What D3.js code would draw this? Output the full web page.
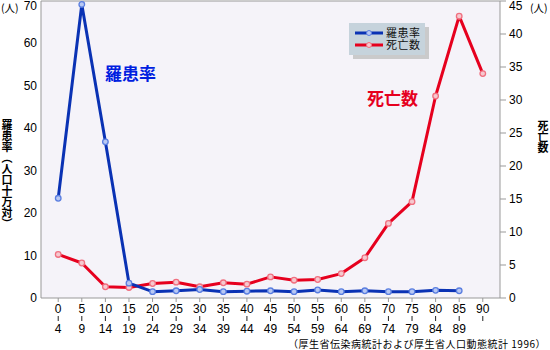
<!DOCTYPE html>
<html>
<head>
<meta charset="utf-8">
<script src="https://cdn.jsdelivr.net/npm/d3@7"></script>
<style>
  body { margin: 0; background: #fff; }
  text { font-family: "Liberation Sans", "Noto Sans CJK JP", sans-serif; }
  .jp { font-family: "Noto Sans CJK JP", sans-serif; }
</style>
</head>
<body>
<div id="chart"></div>
<script>
const ageStarts = ["0","5","10","15","20","25","30","35","40","45","50","55","60","65","70","75","80","85","90"];
const ageEnds   = ["4","9","14","19","24","29","34","39","44","49","54","59","64","69","74","79","84","89",""];
// 罹患率 (per 100k, left axis)
const rate = [23.5, 69.2, 36.8, 3.5, 1.5, 1.7, 2.0, 1.5, 1.6, 1.7, 1.5, 1.9, 1.5, 1.7, 1.5, 1.5, 1.8, 1.7, null];
// 死亡数 (persons, right axis)
const deaths = [6.6, 5.3, 1.7, 1.6, 2.2, 2.4, 1.7, 2.3, 2.1, 3.2, 2.7, 2.8, 3.7, 6.1, 11.3, 14.6, 30.6, 42.7, 34.0];
const seriesNames = ["羅患率", "死亡数"];
const leftTicks = [0, 10, 20, 30, 40, 50, 60, 70];
const rightTicks = [0, 5, 10, 15, 20, 25, 30, 35, 40, 45];

const W = 550, H = 350;
const pLeft = 41, pRight = 500, pTop = 1, pBottom = 298;
const blue = "#0a32b4", red = "#e6001e";

const svg = d3.select("#chart").append("svg")
  .attr("width", W).attr("height", H);

const x = d3.scalePoint().domain(d3.range(ageStarts.length)).range([pLeft, pRight]).padding(0.73);
const yL = d3.scaleLinear().domain([0, 70]).range([pBottom, pTop]);
const yR = d3.scaleLinear().domain([0, 45]).range([pBottom, pTop]);

// plot background
svg.append("rect").attr("x", pLeft).attr("y", pTop)
  .attr("width", pRight - pLeft).attr("height", pBottom - pTop)
  .attr("fill", "#f5f3f9");

// frame
svg.append("path")
  .attr("d", `M${pLeft},${pBottom}V${pTop}H${pRight}V${pBottom}Z`)
  .attr("fill", "none").attr("stroke", "#999").attr("stroke-width", 1);

// left axis labels
svg.append("g").selectAll("text").data(leftTicks).enter().append("text")
  .attr("x", pLeft - 4)
  .attr("y", d => Math.max(yL(d), 6) + 4)
  .attr("text-anchor", "end")
  .style("font-size", "12px")
  .text(d => d);

// right axis ticks + labels
const rg = svg.append("g");
rg.selectAll("line").data(rightTicks).enter().append("line")
  .attr("x1", pRight).attr("x2", pRight + 6)
  .attr("y1", d => yR(d)).attr("y2", d => yR(d))
  .attr("stroke", "#999");
rg.selectAll("text").data(rightTicks).enter().append("text")
  .attr("x", pRight + 9)
  .attr("y", d => Math.max(yR(d), 6) + 4)
  .style("font-size", "12px")
  .text(d => d);

// x ticks
const xg = svg.append("g");
xg.selectAll("line.t").data(ageStarts.map((d, i) => i)).enter().append("line")
  .attr("class", "t")
  .attr("x1", d => x(d)).attr("x2", d => x(d))
  .attr("y1", pBottom).attr("y2", pBottom + 4)
  .attr("stroke", "#999");
xg.selectAll("text.s").data(ageStarts).enter().append("text")
  .attr("class", "s")
  .attr("x", (d, i) => x(i)).attr("y", 313)
  .attr("text-anchor", "middle").style("font-size", "12px")
  .text(d => d);
xg.selectAll("line.bar").data(ageStarts.map((d, i) => i)).enter().append("line")
  .attr("class", "bar")
  .attr("x1", d => x(d)).attr("x2", d => x(d))
  .attr("y1", 316).attr("y2", 321)
  .attr("stroke", "#222");
xg.selectAll("text.e").data(ageEnds).enter().append("text")
  .attr("class", "e")
  .attr("x", (d, i) => x(i)).attr("y", 333)
  .attr("text-anchor", "middle").style("font-size", "12px")
  .text(d => d);

// lines
function drawSeries(values, yScale, color, fill, ring) {
  const pts = values.map((v, i) => [i, v]).filter(d => d[1] != null);
  svg.append("path").datum(pts)
    .attr("fill", "none").attr("stroke", color).attr("stroke-width", 3)
    .attr("stroke-linejoin", "round")
    .attr("d", d3.line().x(d => x(d[0])).y(d => yScale(d[1])));
  svg.append("g").selectAll("circle").data(pts).enter().append("circle")
    .attr("cx", d => x(d[0])).attr("cy", d => yScale(d[1]))
    .attr("r", 2.8).attr("fill", fill).attr("stroke", ring)
    .attr("stroke-width", 1.3);
}
drawSeries(deaths, yR, red, "#f6c8cf", "#f07080");
drawSeries(rate, yL, blue, "#b8c8f4", "#5a7ee0");

// legend
const lg = svg.append("g");
lg.append("rect").attr("x", 353).attr("y", 27).attr("width", 76).attr("height", 32)
  .attr("fill", "#b8b8b8").attr("opacity", 0.7);
lg.append("rect").attr("x", 349).attr("y", 23).attr("width", 76).attr("height", 32)
  .attr("fill", "#c6d3dc");
const legendStyle = [[blue, "#b8c8f4", "#5a7ee0", 33], [red, "#f6c8cf", "#f07080", 45]];
legendStyle.forEach(([c, f, ring, y]) => {
  lg.append("line").attr("x1", 355).attr("x2", 383).attr("y1", y).attr("y2", y)
    .attr("stroke", c).attr("stroke-width", 3);
  lg.append("circle").attr("cx", 369).attr("cy", y).attr("r", 2.5)
    .attr("fill", f).attr("stroke", ring);
});
const lt = lg.append("text").attr("class", "jp")
  .style("font-size", "11px").style("letter-spacing", "0.5px").attr("fill", "#111");
lt.selectAll("tspan").data(seriesNames).enter().append("tspan")
  .attr("x", 386).attr("y", (d, i) => legendStyle[i][3] + 4)
  .text(d => d);

// annotations
svg.append("text").attr("class", "jp").attr("x", 105).attr("y", 80)
  .style("font-size", "17px").style("font-weight", "bold").attr("fill", "#0020e0")
  .text(seriesNames[0]);
svg.append("text").attr("class", "jp").attr("x", 367).attr("y", 105)
  .style("font-size", "17px").style("font-weight", "bold").attr("fill", red)
  .text(seriesNames[1]);

// axis titles
svg.append("text").attr("class", "jp")
  .attr("x", 7).attr("y", 119)
  .style("writing-mode", "vertical-rl")
  .style("font-size", "11px").style("font-weight", "bold")
  .text("羅患率（人口十万対）");
svg.append("text").attr("class", "jp")
  .attr("x", 543).attr("y", 120)
  .style("writing-mode", "vertical-rl")
  .style("font-size", "11px").style("font-weight", "bold")
  .text("死亡数");

// units
svg.append("text").attr("class", "jp").attr("x", 1).attr("y", 12)
  .style("font-size", "10.5px").text("(人)");
svg.append("text").attr("class", "jp").attr("x", 530).attr("y", 12)
  .style("font-size", "10.5px").text("(人)");

// source
svg.append("text").attr("class", "jp").attr("x", 546).attr("y", 348)
  .attr("text-anchor", "end").style("font-size", "10px").style("letter-spacing", "0.5px")
  .text("（厚生省伝染病統計および厚生省人口動態統計 1996）");
</script>
</body>
</html>
